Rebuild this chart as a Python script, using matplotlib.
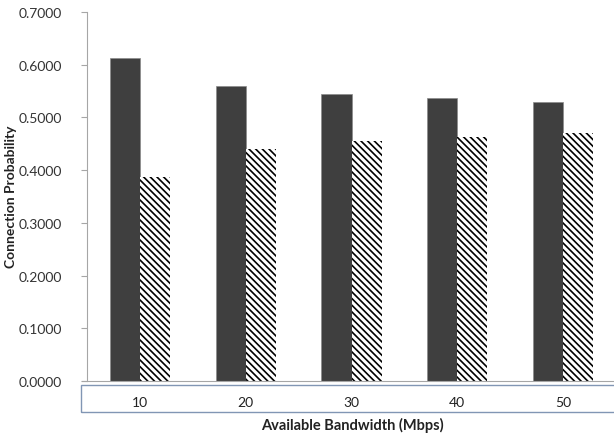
import matplotlib.pyplot as plt
from matplotlib.patches import Rectangle

plt.rcParams['font.family'] = ['Lato', 'DejaVu Sans']
plt.rcParams['hatch.linewidth'] = 1.2

# Connection probability per available bandwidth
bandwidth = ['10', '20', '30', '40', '50']
prob_a = [0.613, 0.560, 0.545, 0.537, 0.530]
prob_b = [0.387, 0.440, 0.455, 0.463, 0.470]
y_ticks = [0.0, 0.1, 0.2, 0.3, 0.4, 0.5, 0.6, 0.7]

W, H = 614, 439
fig = plt.figure(figsize=(W / 100, H / 100), dpi=100)
ax = fig.add_axes([87 / W, (H - 382) / H, 529 / W, (382 - 13) / H])

x = range(len(bandwidth))
bw = 0.284
ax.bar([i - bw / 2 for i in x], prob_a, width=bw, color='#3f3f3f',
       edgecolor='#8a8a8a', linewidth=0.5, zorder=2)
ax.bar([i + bw / 2 for i in x], prob_b, width=bw, color='white',
       edgecolor='black', linewidth=0, hatch='\\\\\\\\\\', zorder=2)

ax.set_xlim(-0.5, len(bandwidth) - 0.5)
ax.set_ylim(0, 0.7)
ax.set_yticks(y_ticks)
ax.set_yticklabels(['%.4f' % v for v in y_ticks], fontsize=10, color='#333333')
ax.set_xticks(list(x))
ax.set_xticklabels(bandwidth, fontsize=10, color='#222222')
ax.tick_params(axis='x', length=0, pad=11)
ax.tick_params(axis='y', length=4, width=0.8, color='#a6a6a6', pad=14)

for s in ['top', 'right']:
    ax.spines[s].set_visible(False)
ax.spines['left'].set_color('#a6a6a6')
ax.spines['bottom'].set_color('#a6a6a6')
ax.spines['bottom'].set_bounds(-0.55, 4.5)

# box around the category labels
fig.add_artist(Rectangle((81 / W, (H - 413) / H), 0.99, 27 / H,
                         transform=fig.transFigure, fill=False,
                         edgecolor='#8196b4', linewidth=1.0))

fig.text(352 / W, 1 - 425 / H, 'Available Bandwidth (Mbps)', ha='center',
         va='center', fontsize=10.5, fontweight='bold', color='#222222')
fig.text(11 / W, 1 - 197 / H, 'Connection Probability', ha='center',
         va='center', rotation=90, fontsize=10, fontweight='bold', color='#222222')

fig.savefig('out.png', dpi=100)
